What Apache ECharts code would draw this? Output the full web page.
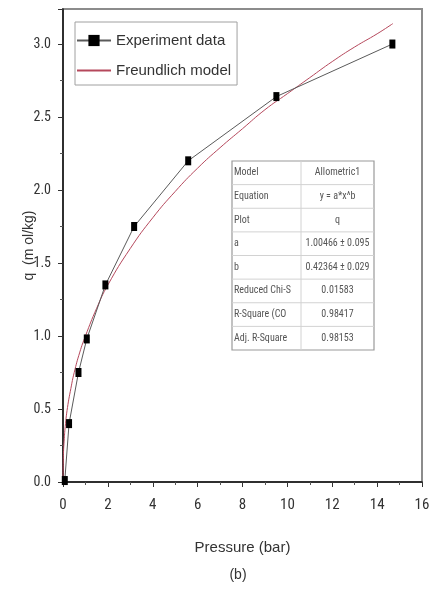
<!DOCTYPE html>
<html>
<head>
<meta charset="utf-8">
<script src="https://cdn.jsdelivr.net/npm/echarts@6/dist/echarts.min.js"></script>
<style>
  html, body { margin: 0; padding: 0; background: #fff; }
  #chart { width: 433px; height: 591px; }
</style>
</head>
<body>
<div id="chart"></div>
<script>
// Measured isotherm: pressure (bar) and uptake q (mol/kg)
const pressure = [0.08, 0.27, 0.69, 1.06, 1.89, 3.17, 5.58, 9.51, 14.68];
const uptake = [0.01, 0.40, 0.75, 0.98, 1.35, 1.75, 2.20, 2.64, 3.00];

// Freundlich fit curve sampled along pressure
const modelPressure = [0, 0.02, 0.05, 0.1, 0.2, 0.35, 0.5, 0.75, 1, 1.5, 2, 3, 4, 5, 6, 7, 8, 9, 10, 11, 12, 13, 14, 14.7];
const modelUptake = [0, 0.19, 0.28, 0.38, 0.51, 0.64, 0.75, 0.89, 1.00, 1.19, 1.35, 1.60, 1.81, 1.99, 2.15, 2.29, 2.42, 2.55, 2.66, 2.77, 2.88, 2.98, 3.07, 3.14];

// Fit summary table
const tableLabels = ['Model', 'Equation', 'Plot', 'a', 'b', 'Reduced Chi-S', 'R-Square (CO', 'Adj. R-Square'];
const tableValues = ['Allometric1', 'y = a*x^b', 'q', '1.00466 \u00b1 0.095', '0.42364 \u00b1 0.029', '0.01583', '0.98417', '0.98153'];

const COND = '"Roboto Condensed", "DejaVu Sans Condensed", sans-serif';
const SANS = '"Liberation Sans", Arial, sans-serif';

const chart = echarts.init(document.getElementById('chart'));

// Parameter table drawn as plain graphics
const tbl = { left: 232, top: 161, width: 142, height: 189, split: 69 };
const rowH = tbl.height / tableLabels.length;
const graphics = [];
graphics.push({
  type: 'rect',
  shape: { x: tbl.left, y: tbl.top, width: tbl.width, height: tbl.height },
  style: { fill: '#fff', stroke: '#9a9a9a', lineWidth: 1.2 },
  z: 10
});
for (let i = 1; i < tableLabels.length; i++) {
  graphics.push({
    type: 'line',
    shape: { x1: tbl.left, y1: tbl.top + i * rowH, x2: tbl.left + tbl.width, y2: tbl.top + i * rowH },
    style: { stroke: '#d2d2d2', lineWidth: 1 },
    z: 11
  });
}
graphics.push({
  type: 'line',
  shape: { x1: tbl.left + tbl.split, y1: tbl.top, x2: tbl.left + tbl.split, y2: tbl.top + tbl.height },
  style: { stroke: '#d2d2d2', lineWidth: 1 },
  z: 11
});
tableLabels.forEach((t, i) => {
  graphics.push({
    type: 'text',
    x: tbl.left + 2, y: tbl.top + (i + 0.5) * rowH,
    style: { text: t, font: '10px ' + COND, fill: '#555', verticalAlign: 'middle', align: 'left' },
    z: 12
  });
});
tableValues.forEach((t, i) => {
  graphics.push({
    type: 'text',
    x: tbl.left + tbl.split + (tbl.width - tbl.split) / 2, y: tbl.top + (i + 0.5) * rowH,
    style: { text: t, font: '10px ' + COND, fill: '#555', verticalAlign: 'middle', align: 'center' },
    z: 12
  });
});
graphics.push({
  type: 'text',
  x: 238, y: 575,
  style: { text: '(b)', font: '14px ' + SANS, fill: '#333', verticalAlign: 'middle', align: 'center' }
});

chart.setOption({
  animation: false,
  grid: {
    left: 63, top: 9, right: 11, bottom: 109,
    show: true, borderColor: '#8c8c8c', borderWidth: 2, backgroundColor: 'transparent'
  },
  legend: {
    orient: 'vertical',
    left: 75, top: 22,
    padding: [11, 6, 7, 1],
    itemWidth: 34, itemHeight: 14, itemGap: 15,
    backgroundColor: '#fff',
    borderColor: '#a0a0a0', borderWidth: 1,
    textStyle: { fontFamily: SANS, fontSize: 15, color: '#333' },
    data: [
      { name: 'Experiment data' },
      { name: 'Freundlich model', itemStyle: { opacity: 0 } }
    ]
  },
  xAxis: {
    type: 'value', min: 0, max: 16, interval: 2,
    name: 'Pressure (bar)', nameLocation: 'middle', nameGap: 58,
    nameTextStyle: { fontFamily: SANS, fontSize: 15, color: '#333' },
    axisLine: { onZero: false, lineStyle: { color: '#111', width: 1.5 } },
    axisTick: { show: true, inside: false, length: 5, lineStyle: { color: '#333' } },
    minorTick: { show: true, splitNumber: 2, length: 3, lineStyle: { color: '#555' } },
    axisLabel: { fontFamily: COND, fontSize: 15, color: '#333', margin: 16 },
    splitLine: { show: false }
  },
  yAxis: {
    type: 'value', min: 0, max: 3.24, interval: 0.5,
    name: 'q  (m ol/kg)', nameLocation: 'middle', nameGap: 27, nameRotate: 90,
    nameMoveOverlap: false,
    nameTextStyle: { fontFamily: SANS, fontSize: 14, color: '#333' },
    axisLine: { onZero: false, lineStyle: { color: '#111', width: 1.5 } },
    axisTick: { show: true, inside: false, length: 5, lineStyle: { color: '#333' } },
    minorTick: { show: true, splitNumber: 2, length: 3, lineStyle: { color: '#555' } },
    axisLabel: {
      fontFamily: COND, fontSize: 14, color: '#333', margin: 12, showMaxLabel: false,
      formatter: v => (Math.abs(v * 2 - Math.round(v * 2)) < 1e-6 ? v.toFixed(1) : '')
    },
    splitLine: { show: false }
  },
  series: [
    {
      name: 'Experiment data',
      type: 'line',
      data: pressure.map((p, i) => [p, uptake[i]]),
      symbol: 'rect', symbolSize: [6, 9],
      itemStyle: { color: '#000' },
      lineStyle: { color: '#5a5a5a', width: 1 },
      z: 4
    },
    {
      name: 'Freundlich model',
      type: 'line',
      data: modelPressure.map((p, i) => [p, modelUptake[i]]),
      symbol: 'none', smooth: true,
      itemStyle: { color: '#b5485c' },
      lineStyle: { color: '#b5485c', width: 1 },
      z: 3
    }
  ],
  graphic: graphics
});
</script>
</body>
</html>
